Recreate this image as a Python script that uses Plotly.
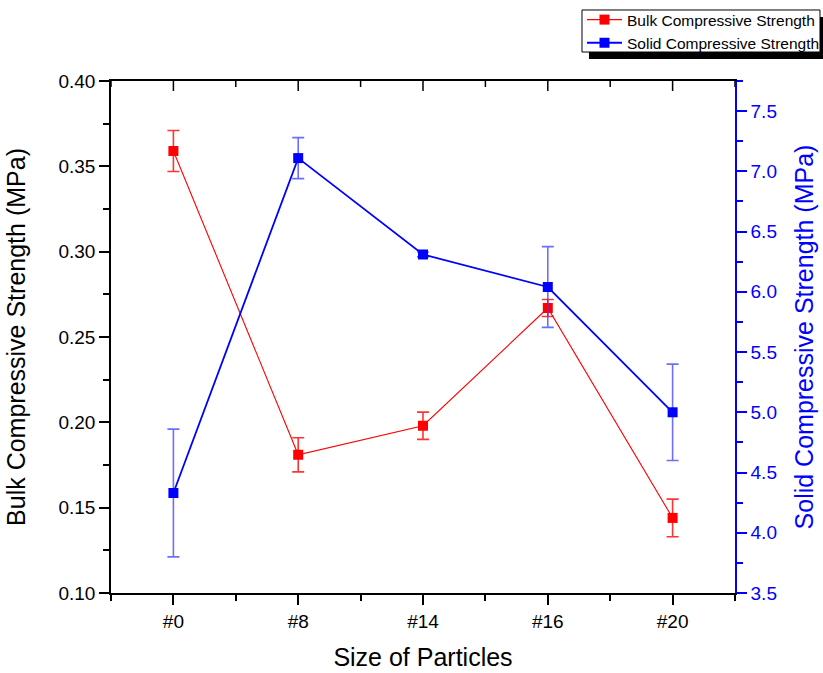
import plotly.graph_objects as go

# Particle size groups
categories = ["#0", "#8", "#14", "#16", "#20"]

# Bulk compressive strength (MPa) and its standard deviation
bulk_strength = [0.359, 0.181, 0.198, 0.267, 0.144]
bulk_err = [0.012, 0.010, 0.008, 0.005, 0.011]

# Solid compressive strength (MPa) and its standard deviation
solid_strength = [4.33, 7.11, 6.31, 6.04, 5.00]
solid_err = [0.53, 0.17, 0.02, 0.335, 0.40]

x_pos = list(range(len(categories)))
minor_pos = [i - 0.5 for i in range(len(categories) + 1)]

FONT = "Liberation Sans, Arial, sans-serif"
RED = "#ff0000"
BLUE = "#0000ff"

PLOT_H = 512          # plot-area height in px (673 - 81 - 80)
MAJOR_LEN, MINOR_LEN = 10, 6

fig = go.Figure()

fig.add_trace(go.Scatter(
    x=x_pos, y=solid_strength, name="Solid Compressive Strength",
    yaxis="y2", mode="lines+markers",
    line=dict(color=BLUE, width=1.8),
    marker=dict(symbol="square", size=10, color=BLUE),
    error_y=dict(type="data", array=solid_err, visible=True,
                 color="rgba(60,60,255,0.75)", thickness=1.6, width=6),
    legendrank=2,
))

fig.add_trace(go.Scatter(
    x=x_pos, y=bulk_strength, name="Bulk Compressive Strength",
    mode="lines+markers",
    line=dict(color=RED, width=1.1),
    marker=dict(symbol="square", size=10, color=RED),
    error_y=dict(type="data", array=bulk_err, visible=True,
                 color="rgba(255,30,30,0.9)", thickness=1.6, width=6),
    legendrank=1,
))

# inward tick marks along the top frame, at the category and boundary positions
for vals, length in ((x_pos, MAJOR_LEN), (minor_pos, MINOR_LEN)):
    for v in vals:
        fig.add_shape(type="line", xref="x", yref="paper",
                      x0=v, x1=v, y0=1.0, y1=1.0 - length / PLOT_H,
                      line=dict(color="black", width=1.5), layer="above")

# legend frame with a drop shadow
fig.add_shape(type="rect", xref="paper", yref="paper",
              x0=0.766, x1=1.16, y0=1.043, y1=1.125,
              fillcolor="black", line=dict(width=0), layer="above")
fig.add_shape(type="rect", xref="paper", yref="paper",
              x0=0.7548, x1=1.1362, y0=1.0566, y1=1.1387,
              fillcolor="white", line=dict(color="black", width=1),
              layer="above")

fig.update_layout(
    width=823, height=673,
    margin=dict(l=111, r=88, t=81, b=80, autoexpand=False),
    paper_bgcolor="white", plot_bgcolor="white",
    font=dict(family=FONT, color="black"),
    showlegend=True,
    legend=dict(x=0.7548, y=1.1523, xanchor="left", yanchor="top",
                bgcolor="rgba(0,0,0,0)", borderwidth=0,
                font=dict(family=FONT, size=15.5, color="black"),
                tracegroupgap=0, itemwidth=35),
    xaxis=dict(
        range=[-0.5, 4.5], tickmode="array", tickvals=x_pos, ticktext=categories,
        ticks="outside", ticklen=MAJOR_LEN, tickwidth=1.5, tickcolor="black",
        showline=True, linecolor="black", linewidth=1.5, mirror=True,
        showgrid=False, zeroline=False,
        tickfont=dict(size=19),
        title=dict(text="Size of Particles", font=dict(size=25), standoff=18),
        minor=dict(tickmode="array", tickvals=minor_pos, ticks="outside",
                   ticklen=MINOR_LEN, tickwidth=1.5, tickcolor="black",
                   showgrid=False),
    ),
    yaxis=dict(
        range=[0.10, 0.40], tickmode="linear", tick0=0.10, dtick=0.05,
        tickformat=".2f",
        ticks="outside", ticklen=MAJOR_LEN, tickwidth=1.5, tickcolor="black",
        showline=True, linecolor="black", linewidth=1.5,
        showgrid=False, zeroline=False,
        tickfont=dict(size=19),
        title=dict(text="Bulk Compressive Strength (MPa)", font=dict(size=25),
                   standoff=26),
        minor=dict(dtick=0.025, ticks="outside", ticklen=MINOR_LEN,
                   tickwidth=1.5, tickcolor="black", showgrid=False),
    ),
    yaxis2=dict(
        overlaying="y", side="right", anchor="x",
        range=[3.5, 7.75], tickmode="linear", tick0=3.5, dtick=0.5,
        tickformat=".1f",
        ticks="outside", ticklen=MAJOR_LEN, tickwidth=1.5, tickcolor=BLUE,
        showline=True, linecolor=BLUE, linewidth=1.5,
        showgrid=False, zeroline=False,
        tickfont=dict(size=19, color=BLUE),
        title=dict(text="Solid Compressive Strength (MPa)",
                   font=dict(size=25, color=BLUE), standoff=20),
        minor=dict(dtick=0.25, ticks="outside", ticklen=MINOR_LEN,
                   tickwidth=1.5, tickcolor=BLUE, showgrid=False),
    ),
)

fig.write_html("out.html")
